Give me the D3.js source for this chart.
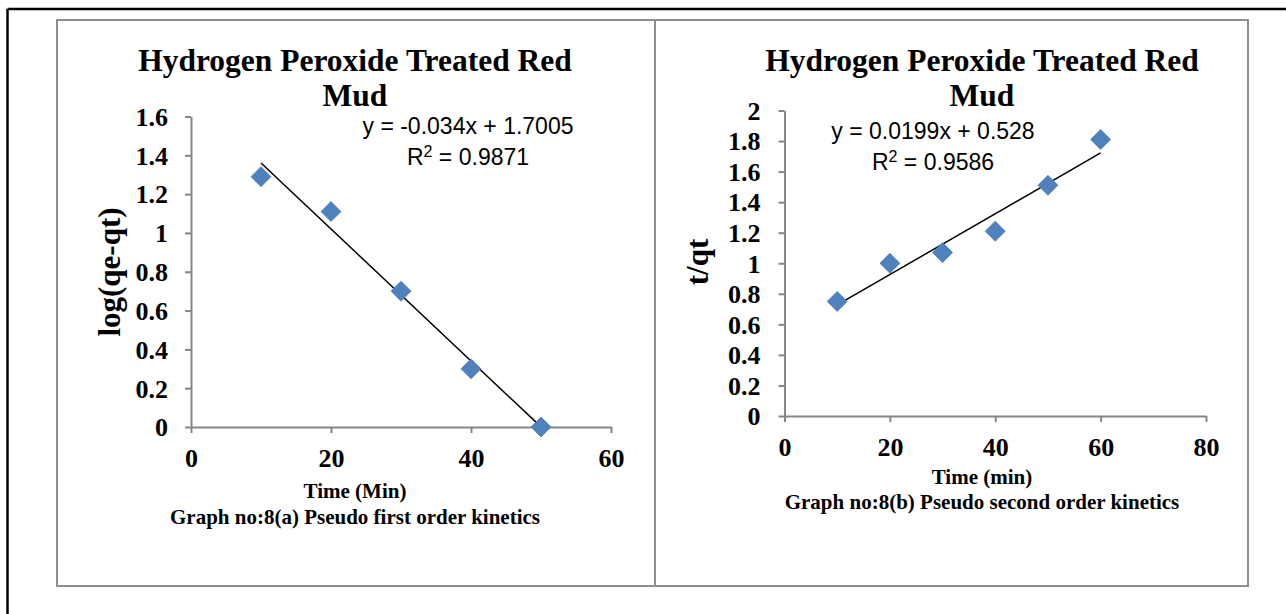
<!DOCTYPE html>
<html>
<head>
<meta charset="utf-8">
<script src="https://cdn.jsdelivr.net/npm/d3@7"></script>
<style>
  html, body { margin: 0; padding: 0; background: #fff; }
  svg { display: block; }
</style>
</head>
<body>
<div id="chart"></div>
<script>
// values
const timeA = [10, 20, 30, 40, 50];
const logQeQt = [1.29, 1.11, 0.70, 0.30, 0.00];
const xTicksA = [0, 20, 40, 60];
const yTicksA = [0, 0.2, 0.4, 0.6, 0.8, 1, 1.2, 1.4, 1.6];
const fitA = [-0.034, 1.7005];   // slope, intercept
const eqA = ["y = -0.034x + 1.7005", "R² = 0.9871"];

const timeB = [10, 20, 30, 40, 50, 60];
const tOverQt = [0.75, 1.00, 1.07, 1.21, 1.51, 1.81];
const xTicksB = [0, 20, 40, 60, 80];
const yTicksB = [0, 0.2, 0.4, 0.6, 0.8, 1, 1.2, 1.4, 1.6, 1.8, 2];
const fitB = [0.0199, 0.528];
const eqB = ["y = 0.0199x + 0.528", "R² = 0.9586"];

const titleLines = ["Hydrogen Peroxide Treated Red", "Mud"];

const W = 1286, H = 614;
const serif = "'Liberation Serif', 'Times New Roman', serif";
const sans = "'Liberation Sans', Arial, sans-serif";
const axisColor = "#868686";

const svg = d3.select('#chart')
  .append('svg')
  .attr('width', W)
  .attr('height', H);

// outer page frame (only top and left show)
svg.append('line').attr('x1', 7.5).attr('x2', W).attr('y1', 9).attr('y2', 9)
  .attr('stroke', '#000').attr('stroke-width', 2.5);
svg.append('line').attr('x1', 7.5).attr('x2', 7.5).attr('y1', 9).attr('y2', H)
  .attr('stroke', '#000').attr('stroke-width', 2.5);

function drawPanel(p) {
  // chart frame
  svg.append('rect')
    .attr('x', p.box[0]).attr('y', p.box[1])
    .attr('width', p.box[2]).attr('height', p.box[3])
    .attr('fill', 'none').attr('stroke', '#8e8e8e').attr('stroke-width', 2);

  const x = d3.scaleLinear().domain(p.xDomain).range(p.xRange);
  const y = d3.scaleLinear().domain(p.yDomain).range(p.yRange);

  const g = svg.append('g');

  // axes
  const xAxis = g.append('g')
    .attr('transform', `translate(0,${p.yRange[0]})`)
    .call(d3.axisBottom(x).tickValues(p.xTicks).tickSizeInner(6).tickSizeOuter(0).tickPadding(p.xPad).tickFormat(d3.format('')));
  const yAxis = g.append('g')
    .attr('transform', `translate(${p.xRange[0]},0)`)
    .call(d3.axisLeft(y).tickValues(p.yTicks).tickSizeInner(6).tickSizeOuter(0).tickPadding(p.yPad).tickFormat(d3.format('')));

  [xAxis, yAxis].forEach(a => {
    a.select('.domain').attr('stroke', axisColor).attr('stroke-width', 2);
    a.selectAll('.tick line').attr('stroke', axisColor).attr('stroke-width', 2);
    a.selectAll('.tick text')
      .attr('fill', '#000')
      .style('font-family', serif)
      .style('font-weight', 'bold')
      .style('font-size', '26px');
  });
  yAxis.selectAll('.tick text').attr('dy', '0.34em');

  // trendline
  const xs = d3.extent(p.xs);
  g.append('line')
    .attr('x1', x(xs[0])).attr('y1', y(p.fit[0] * xs[0] + p.fit[1]))
    .attr('x2', x(xs[1])).attr('y2', y(p.fit[0] * xs[1] + p.fit[1]))
    .attr('stroke', '#000').attr('stroke-width', 1.5);

  // markers
  const diamond = d3.symbol().type(d3.symbolSquare).size(200);
  g.selectAll('path.pt')
    .data(p.xs.map((d, i) => [d, p.ys[i]]))
    .enter()
    .append('path')
    .attr('class', 'pt')
    .attr('d', diamond)
    .attr('transform', d => `translate(${x(d[0])},${y(d[1])}) rotate(45)`)
    .attr('fill', '#4f81bd')
    .attr('stroke', '#4a7ebb')
    .attr('stroke-width', 0.75);

  // title
  g.selectAll('text.title')
    .data(titleLines)
    .enter()
    .append('text')
    .attr('class', 'title')
    .attr('x', p.cx)
    .attr('y', (d, i) => 70.5 + i * 35.5)
    .attr('text-anchor', 'middle')
    .style('font-family', serif).style('font-weight', 'bold').style('font-size', '31.5px')
    .text(d => d);

  // equation, with a raised "2" like Excel's label
  const eq = g.selectAll('text.eq')
    .data(p.eq)
    .enter()
    .append('text')
    .attr('class', 'eq')
    .attr('x', p.eqX)
    .attr('y', (d, i) => p.eqY + i * 31)
    .attr('text-anchor', 'middle')
    .style('font-family', sans).style('font-size', '23px');
  eq.each(function (d) {
    const t = d3.select(this);
    const parts = d.split('²');
    if (parts.length === 1) { t.text(d); return; }
    t.append('tspan').text(parts[0]);
    t.append('tspan').attr('dy', -8).style('font-size', '16px').text('2');
    t.append('tspan').attr('dy', 8).text(parts[1]);
  });

  // axis titles and caption
  g.append('text')
    .attr('transform', `translate(${p.yLabelX},${p.yLabelY}) rotate(-90)`)
    .attr('text-anchor', 'middle')
    .style('font-family', serif).style('font-weight', 'bold').style('font-size', '31px')
    .text(p.yLabel);

  g.append('text')
    .attr('x', p.cx).attr('y', p.xLabelY)
    .attr('text-anchor', 'middle')
    .style('font-family', serif).style('font-weight', 'bold').style('font-size', '21px')
    .text(p.xLabel);

  g.append('text')
    .attr('x', p.cx).attr('y', p.capY)
    .attr('text-anchor', 'middle')
    .style('font-family', serif).style('font-weight', 'bold').style('font-size', '21px')
    .text(p.caption);
}

drawPanel({
  box: [57, 20, 598, 566],
  xDomain: [0, 60], xRange: [191, 611],
  yDomain: [0, 1.6], yRange: [427, 116.5],
  xTicks: xTicksA, yTicks: yTicksA, xPad: 16, yPad: 17,
  xs: timeA, ys: logQeQt, fit: fitA, eq: eqA,
  eqX: 468, eqY: 134,
  cx: 355,
  yLabel: 'log(qe-qt)', yLabelX: 120, yLabelY: 272,
  xLabel: 'Time (Min)', xLabelY: 498,
  caption: 'Graph no:8(a) Pseudo first order kinetics', capY: 524
});

drawPanel({
  box: [655, 20, 593, 566],
  xDomain: [0, 80], xRange: [784.5, 1206],
  yDomain: [0, 2], yRange: [416, 110.5],
  xTicks: xTicksB, yTicks: yTicksB, xPad: 16, yPad: 18,
  xs: timeB, ys: tOverQt, fit: fitB, eq: eqB,
  eqX: 933, eqY: 139,
  cx: 982,
  yLabel: 't/qt', yLabelX: 708, yLabelY: 262,
  xLabel: 'Time (min)', xLabelY: 484,
  caption: 'Graph no:8(b) Pseudo second order kinetics', capY: 509
});
</script>
</body>
</html>
